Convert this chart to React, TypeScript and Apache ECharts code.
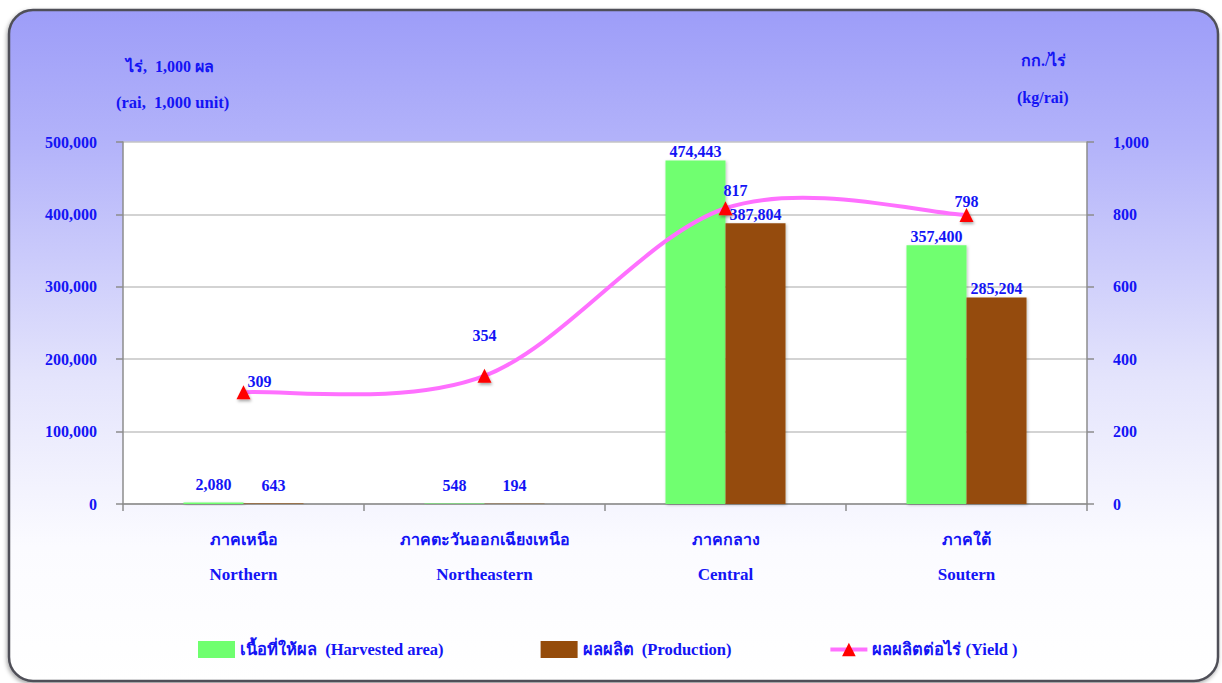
import React, { useEffect, useRef } from "react";
import * as echarts from "echarts";

const regionsTh = ["ภาคเหนือ", "ภาคตะวันออกเฉียงเหนือ", "ภาคกลาง", "ภาคใต้"];
const regionsEn = ["Northern", "Northeastern", "Central", "Soutern"];
const harvestedArea = [2080, 548, 474443, 357400];
const production = [643, 194, 387804, 285204];
const yieldPerRai = [309, 354, 817, 798];
const yieldLabelOffsets = [
  [16, 4],
  [0, -25],
  [10, -3],
  [0, 1],
];
const barLabelOffsets = [
  [0, -9],
  [0, -9],
  [0, 0],
  [0, 0],
];

const BLUE = "#1414f5";
const MAGENTA = "#ff70ff";
const FONT = "'Liberation Serif', 'Times New Roman', serif";

const fmt = (v: number) => Number(v).toLocaleString("en-US");

export default function App() {
  const ref = useRef<HTMLDivElement>(null);
  useEffect(() => {
    if (!ref.current) return;
    const chart = echarts.init(ref.current, undefined, { renderer: "svg" });
    const txt = { color: BLUE, fontFamily: FONT, fontWeight: "bold" as const, fontSize: 16 };
    const nameArea = "เนื้อที่ให้ผล  (Harvested area)";
    const nameProd = "ผลผลิต  (Production)";
    const nameYield = "ผลผลิตต่อไร่ (Yield )";
    chart.setOption({
      animation: false,
      graphic: [
        {
          type: "rect",
          z: -10,
          silent: true,
          shape: { x: 9, y: 10, width: 1209, height: 671, r: 24 },
          style: {
            fill: new echarts.graphic.LinearGradient(0, 0, 0, 1, [
              { offset: 0, color: "#9d9df8" },
              { offset: 0.2, color: "#b3b3fa" },
              { offset: 0.55, color: "#e4e4fc" },
              { offset: 0.8, color: "#fbfbff" },
              { offset: 1, color: "#ffffff" },
            ]),
            stroke: "#505058",
            lineWidth: 2.5,
            shadowBlur: 4,
            shadowColor: "rgba(0,0,0,0.35)",
            shadowOffsetX: -1,
            shadowOffsetY: 2,
          },
        },
        { type: "text", left: 126, top: 58, style: { text: "ไร่,  1,000 ผล", fill: BLUE, font: `bold 16px ${FONT}` } },
        { type: "text", left: 116, top: 94, style: { text: "(rai,  1,000 unit)", fill: BLUE, font: `bold 16.5px ${FONT}` } },
        { type: "text", left: 1021, top: 52, style: { text: "กก./ไร่", fill: BLUE, font: `bold 16px ${FONT}` } },
        { type: "text", left: 1017, top: 89, style: { text: "(kg/rai)", fill: BLUE, font: `bold 16px ${FONT}` } },
      ],
      grid: {
        left: 123,
        right: 135,
        top: 142,
        bottom: 179,
        show: true,
        backgroundColor: "#ffffff",
        borderWidth: 0,
      },
      legend: {
        left: 193,
        top: 636,
        itemWidth: 37,
        itemHeight: 17,
        itemGap: 97,
        textStyle: { ...txt, fontSize: 16.5 },
        data: [
          { name: nameArea, icon: "rect" },
          { name: nameProd, icon: "rect" },
          { name: nameYield, lineStyle: { color: MAGENTA, width: 4, opacity: 1 } },
        ],
      },
      xAxis: {
        type: "category",
        data: regionsEn.map((e, i) => regionsTh[i] + "\n" + e),
        axisLine: { lineStyle: { color: "#8c8c8c", width: 1.5 } },
        axisTick: { show: true, length: 7, lineStyle: { color: "#8c8c8c", width: 1.5 } },
        axisLabel: {
          margin: 18,
          formatter: (v: string) => {
            const [th, en] = v.split("\n");
            return `{th|${th}}\n{en|${en}}`;
          },
          rich: {
            th: { ...txt, fontSize: 16, lineHeight: 35 },
            en: { ...txt, fontSize: 17, lineHeight: 35 },
          },
        },
      },
      yAxis: [
        {
          type: "value",
          min: 0,
          max: 500000,
          interval: 100000,
          axisLine: { show: true, lineStyle: { color: "#8c8c8c", width: 1.5 } },
          axisTick: { show: true, length: 7, lineStyle: { color: "#8c8c8c", width: 1.5 } },
          axisLabel: { ...txt, margin: 26, formatter: (v: number) => fmt(v) },
          splitLine: { show: true, lineStyle: { color: "#c4c4c4", width: 1.5 } },
        },
        {
          type: "value",
          min: 0,
          max: 1000,
          interval: 200,
          axisLine: { show: true, lineStyle: { color: "#8c8c8c", width: 1.5 } },
          axisTick: { show: true, length: 7, lineStyle: { color: "#8c8c8c", width: 1.5 } },
          axisLabel: { ...txt, margin: 26, formatter: (v: number) => fmt(v) },
          splitLine: { show: false },
        },
      ],
      series: [
        {
          name: nameArea,
          type: "bar",
          barWidth: 60,
          barGap: "0%",
          data: harvestedArea.map((v, i) => ({ value: v, label: { offset: barLabelOffsets[i] } })),
          itemStyle: {
            color: "#6fff6f",
            shadowColor: "rgba(0,0,0,0.25)",
            shadowBlur: 3,
            shadowOffsetX: 1,
            shadowOffsetY: 1,
          },
          label: { show: true, position: "top", distance: 1, ...txt, formatter: (p: any) => fmt(p.value) },
        },
        {
          name: nameProd,
          type: "bar",
          barWidth: 60,
          data: production.map((v, i) => ({ value: v, label: { offset: barLabelOffsets[i] } })),
          itemStyle: {
            color: "#954c0b",
            shadowColor: "rgba(0,0,0,0.25)",
            shadowBlur: 3,
            shadowOffsetX: 1,
            shadowOffsetY: 1,
          },
          label: { show: true, position: "top", distance: 1, ...txt, formatter: (p: any) => fmt(p.value) },
        },
        {
          name: "yieldCurve",
          type: "custom",
          yAxisIndex: 1,
          z: 4,
          silent: true,
          data: yieldPerRai.map((v, i) => [i, v]),
          encode: { x: 0, y: 1 },
          renderItem: (params: any, api: any) => {
            const i = params.dataIndex;
            const n = yieldPerRai.length;
            if (i >= n - 1) return null;
            const pt = (k: number) => {
              const j = Math.max(0, Math.min(n - 1, k));
              return api.coord([j, yieldPerRai[j]]);
            };
            const p0 = pt(i - 1);
            const p1 = pt(i);
            const p2 = pt(i + 1);
            const p3 = pt(i + 2);
            const t = 1 / 6;
            return {
              type: "bezierCurve",
              shape: {
                x1: p1[0],
                y1: p1[1],
                cpx1: p1[0] + (p2[0] - p0[0]) * t,
                cpy1: p1[1] + (p2[1] - p0[1]) * t,
                cpx2: p2[0] - (p3[0] - p1[0]) * t,
                cpy2: p2[1] - (p3[1] - p1[1]) * t,
                x2: p2[0],
                y2: p2[1],
              },
              style: { stroke: MAGENTA, lineWidth: 4, fill: "none" },
            };
          },
        },
        {
          name: nameYield,
          type: "line",
          yAxisIndex: 1,
          z: 5,
          symbol: "triangle",
          symbolSize: 14,
          lineStyle: { color: MAGENTA, width: 4, opacity: 0 },
          itemStyle: {
            color: "#ff0000",
            shadowColor: "rgba(0,0,0,0.35)",
            shadowBlur: 3,
            shadowOffsetX: 1,
            shadowOffsetY: 2,
          },
          data: yieldPerRai.map((v, i) => ({
            value: v,
            label: { offset: yieldLabelOffsets[i] },
          })),
          label: { show: true, position: "top", distance: 0, ...txt },
        },
      ],
    });
    return () => chart.dispose();
  }, []);
  return (
    <div
      ref={ref}
      style={{ position: "fixed", left: 0, top: 0, width: 1222, height: 683, background: "#ffffff" }}
    />
  );
}
